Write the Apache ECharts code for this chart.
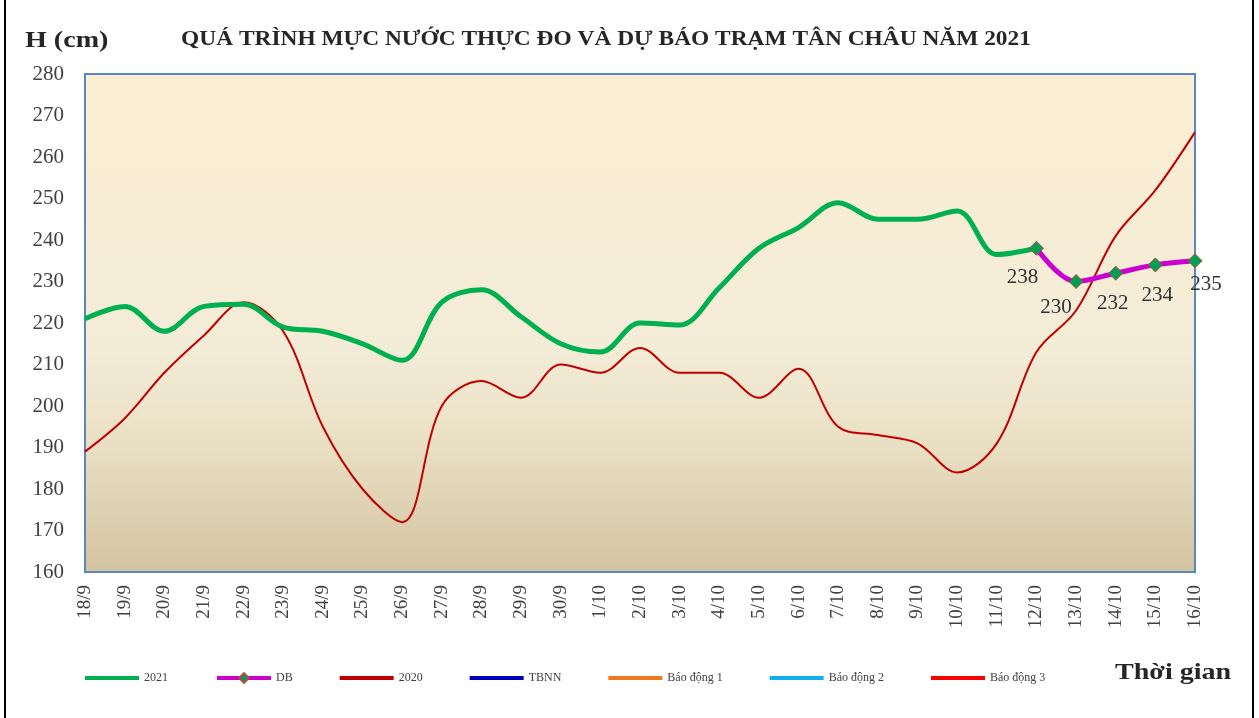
<!DOCTYPE html>
<html lang="vi">
<head>
    <meta charset="UTF-8">
    <title>Mực nước Tân Châu 2021</title>
    <style>
        html, body { margin: 0; padding: 0; background: #fff; }
        #main { width: 1259px; height: 718px; }
    </style>
</head>
<body>
<div id="main"></div>

<script src="https://cdn.jsdelivr.net/npm/echarts@6/dist/echarts.min.js"></script>
<script>
    // ngày
    var days = ['18/9', '19/9', '20/9', '21/9', '22/9', '23/9', '24/9', '25/9', '26/9', '27/9', '28/9', '29/9', '30/9',
        '1/10', '2/10', '3/10', '4/10', '5/10', '6/10', '7/10', '8/10', '9/10', '10/10', '11/10', '12/10', '13/10',
        '14/10', '15/10', '16/10'];

    // mực nước thực đo 2021
    var h2021 = [221, 224, 218, 224, 224.5, 219, 218, 215, 211, 225, 228, 221.5, 215, 213, 220, 219.5, 228.5, 238,
        243, 249, 245, 245, 247, 236.5, 238, null, null, null, null];

    // dự báo
    var dubao = [null, null, null, null, null, null, null, null, null, null, null, null, null, null, null, null, null,
        null, null, null, null, null, null, null, 238, 230, 232, 234, 235];

    // cùng kỳ 2020
    var h2020 = [189, 197, 208, 217, 225, 218, 195, 180, 172, 200, 206, 202, 210, 208, 214, 208, 208, 202, 209, 195,
        193, 191, 184, 191, 213, 223, 241, 252, 266];

    // lệch nhãn của các điểm dự báo
    var dbOffsets = [[-14, 6], [-20, 3], [-3, 7], [2, 8], [11, 1]];

    var serif = 'Liberation Serif';
    var lineIcon = 'path://M0,0 L54,0 L54,4 L0,4 Z';
    var myChart = echarts.init(document.getElementById('main'));

    var dbData = dubao.map(function (v, i) {
        if (v === null) return null;
        return {
            value: v,
            label: { show: true, position: 'bottom', offset: dbOffsets[i - 24] }
        };
    });

    var option = {
        animation: false,
        textStyle: { fontFamily: serif },
        graphic: [
            {   // tiêu đề
                type: 'text', x: 606, y: 40, scaleX: 1.17,
                style: {
                    text: 'QUÁ TRÌNH MỰC NƯỚC THỰC ĐO VÀ DỰ BÁO TRẠM TÂN CHÂU NĂM 2021',
                    fontFamily: serif, fontSize: 20, fontWeight: 'bold', fill: '#262626',
                    align: 'center', verticalAlign: 'middle'
                }
            },
            {
                type: 'text', x: 25, y: 41, scaleX: 1.17,
                style: {
                    text: 'H (cm)', fontFamily: serif, fontSize: 24, fontWeight: 'bold', fill: '#262626',
                    align: 'left', verticalAlign: 'middle'
                }
            },
            {
                type: 'text', x: 1115, y: 673, scaleX: 1.17,
                style: {
                    text: 'Thời gian', fontFamily: serif, fontSize: 24, fontWeight: 'bold', fill: '#262626',
                    align: 'left', verticalAlign: 'middle'
                }
            },
            // khung ngoài
            { type: 'rect', shape: { x: 4, y: 0, width: 2, height: 718 }, style: { fill: '#000' } },
            { type: 'rect', shape: { x: 1252, y: 0, width: 2, height: 718 }, style: { fill: '#000' } }
        ],
        legend: {
            left: 80, top: 667,
            itemWidth: 54, itemHeight: 12, itemGap: 47,
            textStyle: { fontFamily: serif, fontSize: 12, color: '#404040' },
            lineStyle: { width: 4 },
            data: [
                { name: '2021', icon: lineIcon },
                { name: 'DB' },
                { name: '2020', icon: lineIcon },
                { name: 'TBNN', icon: lineIcon },
                { name: 'Báo động 1', icon: lineIcon },
                { name: 'Báo động 2', icon: lineIcon },
                { name: 'Báo động 3', icon: lineIcon }
            ]
        },
        grid: {
            left: 85, right: 64, top: 74, bottom: 146,
            show: true,
            borderColor: '#5B86C5', borderWidth: 2,
            backgroundColor: new echarts.graphic.LinearGradient(0, 0, 0, 1, [
                { offset: 0, color: '#FCEED3' },
                { offset: 0.55, color: '#F3ECD7' },
                { offset: 0.75, color: '#E9DFC3' },
                { offset: 1, color: '#D2C39F' }
            ])
        },
        xAxis: {
            type: 'category',
            boundaryGap: false,
            data: days,
            axisLine: { show: false },
            axisTick: { show: false },
            splitLine: { show: false },
            axisLabel: { rotate: 90, fontSize: 19, color: '#404040', fontFamily: serif, margin: 13, interval: 0 }
        },
        yAxis: {
            type: 'value',
            min: 160, max: 280, interval: 10,
            axisLine: { show: false },
            axisTick: { show: false },
            splitLine: { show: false },
            axisLabel: { fontSize: 21, color: '#404040', fontFamily: serif, margin: 21 }
        },
        series: [
            {
                name: '2021', type: 'line', data: h2021, smooth: 0.35, symbol: 'none',
                color: '#00B050', lineStyle: { width: 5, color: '#00B050' }, z: 3
            },
            {
                name: 'DB', type: 'line', data: dbData, smooth: 0.35,
                symbol: 'diamond', symbolSize: 14,
                color: '#CC00CC',
                lineStyle: { width: 5, color: '#CC00CC' },
                itemStyle: { color: '#00A050', borderColor: '#B04A40', borderWidth: 1 },
                label: { fontSize: 21, color: '#333', fontFamily: serif },
                z: 4
            },
            {
                name: '2020', type: 'line', data: h2020, smooth: 0.35, symbol: 'none',
                color: '#C00000', lineStyle: { width: 2, color: '#C00000' }, z: 2
            },
            { name: 'TBNN', type: 'line', data: [], symbol: 'none', color: '#0000C0', lineStyle: { width: 3, color: '#0000C0' } },
            { name: 'Báo động 1', type: 'line', data: [], symbol: 'none', color: '#F07820', lineStyle: { width: 3, color: '#F07820' } },
            { name: 'Báo động 2', type: 'line', data: [], symbol: 'none', color: '#10B0F0', lineStyle: { width: 3, color: '#10B0F0' } },
            { name: 'Báo động 3', type: 'line', data: [], symbol: 'none', color: '#FF0000', lineStyle: { width: 3, color: '#FF0000' } }
        ]
    };

    myChart.setOption(option);
</script>
</body>
</html>
